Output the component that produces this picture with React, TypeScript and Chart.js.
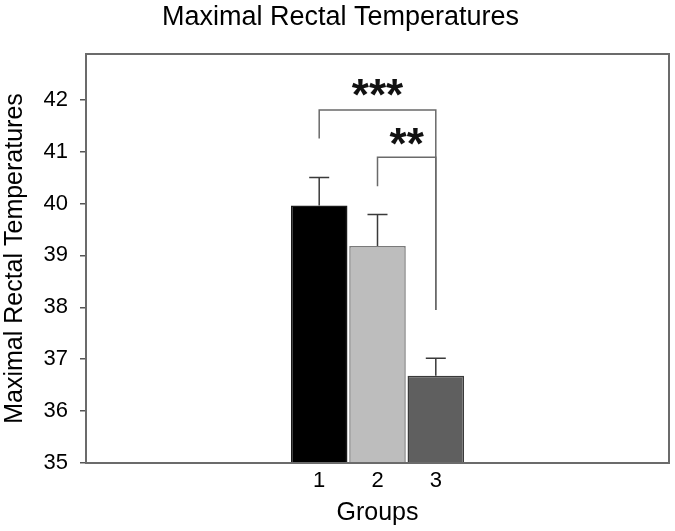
import React, { useEffect, useRef } from 'react';
import { Chart, registerables } from 'chart.js';

Chart.register(...registerables);

const groups = ['1', '2', '3'];
const groupX = [1, 2, 3];
const means = [39.96, 39.18, 36.68];
const errors = [0.54, 0.61, 0.34];
const barColors = ['#000000', '#bdbdbd', '#5f5f5f'];
const barBorders = ['#1a1a1a', '#7a7a7a', '#3a3a3a'];
const yTicks = [35, 36, 37, 38, 39, 40, 41, 42];
const yMin = 35;
const yMax = 42.88;
const xMin = -3;
const xMax = 7;
const bracketFrom = [1, 2];
const bracketTo = [3, 3];
const bracketTop = [41.8, 40.89];
const bracketFromEnd = [41.25, 40.33];
const bracketToEnd = [37.95, 37.95];
const bracketLabels = ['***', '**'];
const bracketLabelY = [42.23, 41.3];

const FONT = '"Liberation Sans", Arial, sans-serif';

const overlayPlugin = {
  id: 'overlay',
  afterDatasetsDraw(chart: any) {
    const { ctx, chartArea, scales } = chart;
    const xs = scales.x;
    const ys = scales.y;
    ctx.save();
    // error bars
    ctx.strokeStyle = '#3a3a3a';
    ctx.lineWidth = 1.5;
    const meta = chart.getDatasetMeta(0);
    for (let i = 0; i < means.length; i++) {
      const px = meta.data[i].x;
      const y0 = ys.getPixelForValue(means[i]);
      const y1 = ys.getPixelForValue(means[i] + errors[i]);
      ctx.beginPath();
      ctx.moveTo(px, y0);
      ctx.lineTo(px, y1);
      ctx.moveTo(px - 10, y1);
      ctx.lineTo(px + 10, y1);
      ctx.stroke();
    }
    // significance brackets
    ctx.strokeStyle = '#6a6a6a';
    ctx.lineWidth = 1.5;
    for (let i = 0; i < bracketFrom.length; i++) {
      const xa = xs.getPixelForValue(bracketFrom[i]);
      const xb = xs.getPixelForValue(bracketTo[i]);
      const yt = ys.getPixelForValue(bracketTop[i]);
      const ya = ys.getPixelForValue(bracketFromEnd[i]);
      const yb = ys.getPixelForValue(bracketToEnd[i]);
      ctx.beginPath();
      ctx.moveTo(xa, ya);
      ctx.lineTo(xa, yt);
      ctx.lineTo(xb, yt);
      ctx.lineTo(xb, yb);
      ctx.stroke();
      ctx.font = `bold 44px ${FONT}`;
      ctx.fillStyle = '#111';
      ctx.textAlign = 'center';
      ctx.textBaseline = 'alphabetic';
      const m = ctx.measureText(bracketLabels[i]);
      const cx = xs.getPixelForValue((bracketFrom[i] + bracketTo[i]) / 2);
      const cy = ys.getPixelForValue(bracketLabelY[i]);
      const base = cy + (m.actualBoundingBoxAscent - m.actualBoundingBoxDescent) / 2;
      ctx.fillText(bracketLabels[i], cx, base);
    }
    // frame
    ctx.strokeStyle = '#6b6b6b';
    ctx.lineWidth = 2;
    ctx.strokeRect(chartArea.left, chartArea.top, chartArea.right - chartArea.left, chartArea.bottom - chartArea.top);
    ctx.restore();
  },
};

export default function App() {
  const ref = useRef<HTMLCanvasElement | null>(null);
  useEffect(() => {
    if (!ref.current) return;
    const chart = new Chart(ref.current, {
      type: 'bar',
      data: {
        datasets: [
          {
            data: groupX.map((x, i) => ({ x, y: means[i] })),
            backgroundColor: barColors,
            borderColor: barBorders,
            borderWidth: 1.5,
            barPercentage: 1,
            categoryPercentage: 0.97,
          },
        ],
      },
      options: {
        animation: false,
        responsive: true,
        maintainAspectRatio: false,
        layout: { padding: { left: 12, right: 6, top: 0, bottom: 0 } },
        plugins: {
          legend: { display: false },
          tooltip: { enabled: false },
          title: {
            display: true,
            text: 'Maximal Rectal Temperatures',
            color: '#000',
            font: { family: FONT, size: 27, weight: 'normal' },
            padding: { top: 1, bottom: 20.6 },
          },
        },
        scales: {
          x: {
            type: 'linear',
            offset: false,
            min: xMin,
            max: xMax,
            afterBuildTicks: (s: any) => {
              s.ticks = groupX.map((v) => ({ value: v }));
            },
            afterFit: (s: any) => {
              s.height = 68;
            },
            grid: { display: false, offset: false },
            border: { display: false },
            ticks: {
              color: '#000',
              font: { family: FONT, size: 22 },
              padding: -3,
              maxRotation: 0,
              autoSkip: false,
              callback: (v: any) => {
                const i = groupX.indexOf(Number(v));
                return i >= 0 ? groups[i] : '';
              },
            },
            title: {
              display: true,
              text: 'Groups',
              color: '#000',
              font: { family: FONT, size: 25 },
              padding: { top: 0, bottom: 3 },
            },
          },
          y: {
            type: 'linear',
            min: yMin,
            max: yMax,
            afterBuildTicks: (s: any) => {
              s.ticks = yTicks.map((v) => ({ value: v }));
            },
            afterFit: (s: any) => {
              s.width = 74;
            },
            grid: {
              drawOnChartArea: false,
              drawTicks: true,
              tickLength: 6,
              color: '#555',
              lineWidth: 1.5,
            },
            border: { display: false },
            ticks: {
              color: '#000',
              font: { family: FONT, size: 22 },
              padding: 12,
              callback: (v: any) => String(v),
            },
            title: {
              display: true,
              text: 'Maximal Rectal Temperatures',
              color: '#000',
              font: { family: FONT, size: 25 },
              padding: { top: -12, bottom: 0 },
            },
          },
        },
      },
      plugins: [overlayPlugin],
    });
    return () => chart.destroy();
  }, []);
  return (
    <div style={{ position: 'fixed', left: 0, top: 0, width: 675, height: 531, background: '#fff' }}>
      <canvas ref={ref} />
    </div>
  );
}
